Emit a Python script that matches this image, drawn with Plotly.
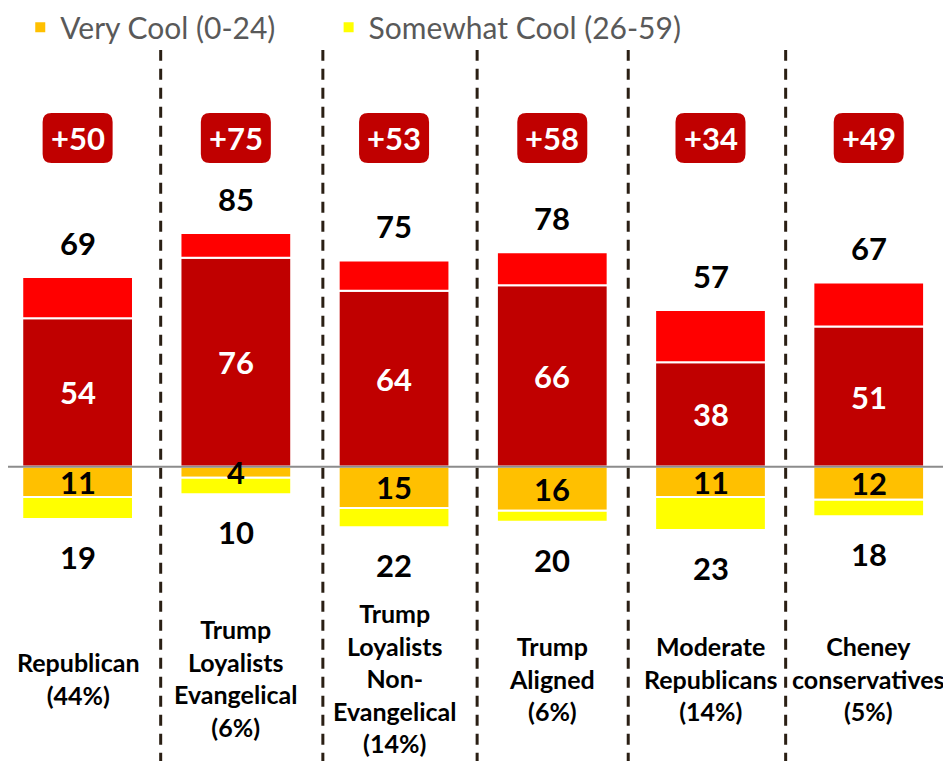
import plotly.graph_objects as go

# ---- data -------------------------------------------------------------
categories = [
    "Republican<br>(44%)",
    "Trump<br>Loyalists<br>Evangelical<br>(6%)",
    "Trump<br>Loyalists<br>Non-<br>Evangelical<br>(14%)",
    "Trump<br>Aligned<br>(6%)",
    "Moderate<br>Republicans<br>(14%)",
    "Cheney<br>conservatives<br>(5%)",
]
very_warm = [54, 76, 64, 66, 38, 51]
somewhat_warm = [15, 9, 11, 12, 19, 16]
very_cool = [11, 4, 15, 16, 11, 12]
somewhat_cool = [8, 6, 7, 4, 12, 6]
divider_pos = [0.525, 1.55, 2.525, 3.48, 4.475]

warm_total = [a + b for a, b in zip(very_warm, somewhat_warm)]
cool_total = [a + b for a, b in zip(very_cool, somewhat_cool)]
net = [w - c for w, c in zip(warm_total, cool_total)]

x = list(range(len(categories)))

FONT = "Lato, Roboto, Liberation Sans, sans-serif"
DARK_RED = "#C00000"
BAR_W = 0.70
NET_Y = 119.5

fig = go.Figure()
fig.add_trace(go.Bar(x=x, y=very_warm, name="Very Warm (75-100)",
                     marker=dict(color=DARK_RED, line=dict(color="white", width=2)),
                     width=BAR_W, showlegend=False))
fig.add_trace(go.Bar(x=x, y=somewhat_warm, name="Somewhat Warm (51-74)",
                     marker=dict(color="#FF0000", line=dict(color="white", width=2)),
                     width=BAR_W, showlegend=False))
fig.add_trace(go.Bar(x=x, y=[-v for v in very_cool], name="Very Cool (0-24)",
                     marker=dict(color="#FFC000", line=dict(color="white", width=2)),
                     width=BAR_W, legend="legend"))
fig.add_trace(go.Bar(x=x, y=[-v for v in somewhat_cool], name="Somewhat Cool (26-59)",
                     marker=dict(color="#FFFF00", line=dict(color="white", width=2)),
                     width=BAR_W, legend="legend2"))

annotations = []
shapes = []
for i in x:
    # value labels
    annotations.append(dict(x=i, y=very_warm[i] / 2, text=f"<b>{very_warm[i]}</b>", showarrow=False,
                            font=dict(size=31, color="white", family=FONT)))
    annotations.append(dict(x=i, y=-very_cool[i] / 2, text=f"<b>{very_cool[i]}</b>", showarrow=False,
                            font=dict(size=31, color="black", family=FONT)))
    annotations.append(dict(x=i, y=warm_total[i], yshift=34, text=f"<b>{warm_total[i]}</b>", showarrow=False,
                            font=dict(size=31, color="black", family=FONT)))
    annotations.append(dict(x=i, y=-cool_total[i], yshift=-38, text=f"<b>{cool_total[i]}</b>", showarrow=False,
                            font=dict(size=31, color="black", family=FONT)))
    # net boxes
    shapes.append(dict(type="path", xref="x", yref="y", xsizemode="pixel", ysizemode="pixel",
                       xanchor=i, yanchor=NET_Y,
                       path="M -26,-25 L 26,-25 Q 35,-25 35,-16 L 35,16 Q 35,25 26,25 "
                            "L -26,25 Q -35,25 -35,16 L -35,-16 Q -35,-25 -26,-25 Z",
                       fillcolor=DARK_RED, line=dict(width=0), layer="above"))
    annotations.append(dict(x=i, y=NET_Y, text=f"<b>+{net[i]}</b>", showarrow=False,
                            font=dict(size=31, color="white", family=FONT)))
    # category labels
    annotations.append(dict(x=i, y=-77, text=f"<b>{categories[i]}</b>", showarrow=False,
                            yanchor="middle", font=dict(size=25, color="black", family=FONT)))

for d in divider_pos:
    shapes.append(dict(type="line", xref="x", yref="y", x0=d, x1=d, y0=-108, y1=151.5,
                       line=dict(color="#2a1f14", width=3, dash="11px,8px"), layer="below"))

# zero line
shapes.append(dict(type="line", xref="paper", yref="y", x0=0, x1=1, y0=0, y1=0,
                   line=dict(color="#8c8c8c", width=2), layer="above"))

legend_style = dict(orientation="h", y=1.009, xanchor="left", yanchor="top",
                    font=dict(size=30, color="#595959", family=FONT), bgcolor="rgba(0,0,0,0)")

fig.update_layout(
    barmode="relative",
    width=943, height=753,
    paper_bgcolor="white", plot_bgcolor="white",
    margin=dict(l=0, r=0, t=0, b=0, autoexpand=False),
    xaxis=dict(range=[-0.44, 5.52], visible=False),
    yaxis=dict(range=[-107.0, 166.8], visible=False),
    shapes=shapes,
    annotations=annotations,
    legend=dict(x=0.013, **legend_style),
    legend2=dict(x=0.34, **legend_style),
    font=dict(family=FONT),
)

fig.write_html("out.html")
